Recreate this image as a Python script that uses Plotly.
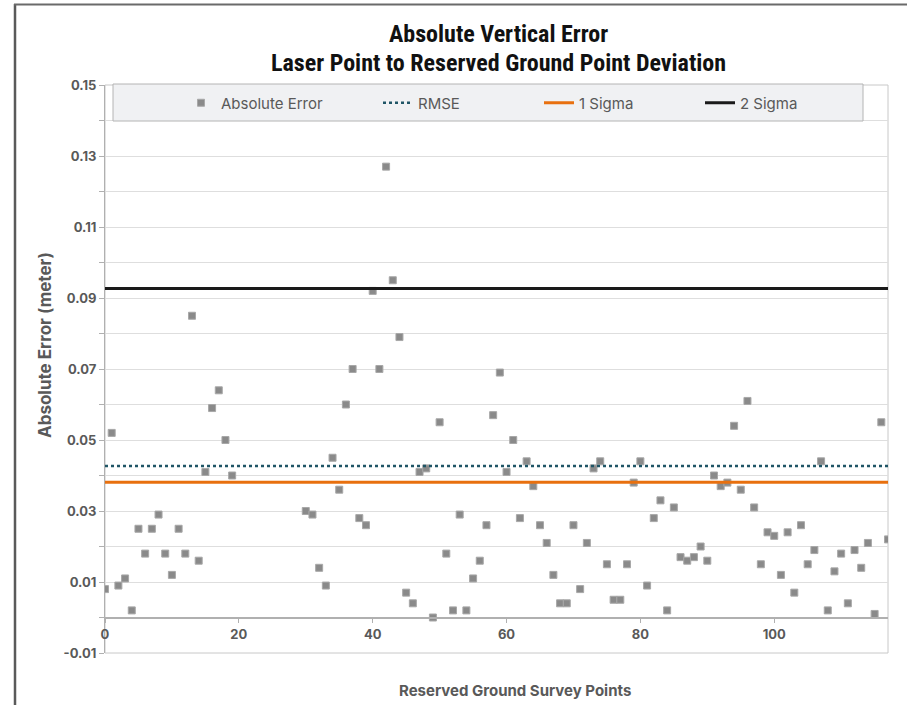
import plotly.graph_objects as go

# Survey point indices and absolute vertical error (m)
point_ids = list(range(0, 20)) + list(range(30, 118))
abs_error = [
    0.008, 0.052, 0.009, 0.011, 0.002, 0.025, 0.018, 0.025, 0.029, 0.018,
    0.012, 0.025, 0.018, 0.085, 0.016, 0.041, 0.059, 0.064, 0.050, 0.040,
    0.030, 0.029, 0.014, 0.009, 0.045, 0.036, 0.060, 0.070, 0.028, 0.026,
    0.092, 0.070, 0.127, 0.095, 0.079, 0.007, 0.004, 0.041, 0.042, 0.000,
    0.055, 0.018, 0.002, 0.029, 0.002, 0.011, 0.016, 0.026, 0.057, 0.069,
    0.041, 0.050, 0.028, 0.044, 0.037, 0.026, 0.021, 0.012, 0.004, 0.004,
    0.026, 0.008, 0.021, 0.042, 0.044, 0.015, 0.005, 0.005, 0.015, 0.038,
    0.044, 0.009, 0.028, 0.033, 0.002, 0.031, 0.017, 0.016, 0.017, 0.020,
    0.016, 0.040, 0.037, 0.038, 0.054, 0.036, 0.061, 0.031, 0.015, 0.024,
    0.023, 0.012, 0.024, 0.007, 0.026, 0.015, 0.019, 0.044, 0.002, 0.013,
    0.018, 0.004, 0.019, 0.014, 0.021, 0.001, 0.055, 0.022,
]

# Summary statistics (m)
rmse = 0.0427
sigma1 = 0.0381
sigma2 = 0.0927

# Y ticks every 0.01, labelled every other one (odd hundredths)
y_ticks = [round(-0.01 + 0.01 * k, 2) for k in range(17)]
y_labels = [f"{v:.2f}" if round(v * 100) % 2 else "" for v in y_ticks]
x_ticks = [0, 20, 40, 60, 80, 100]

W, H = 907, 705
ML, MR, MT, MB = 105, 19, 85, 52
PW, PH = W - ML - MR, H - MT - MB


def px_x(p):
    return (p - ML) / PW


def px_y(p):
    return (H - MB - p) / PH


GRAY_TXT = "#595959"
BODY_FONT = "Inter, Lato, DejaVu Sans, sans-serif"
TITLE_FONT = "Liberation Sans Narrow, Roboto Condensed, Roboto, sans-serif"

x_span = [point_ids[0], point_ids[-1]]

fig = go.Figure()
fig.add_trace(go.Scatter(
    x=point_ids, y=abs_error, mode="markers", name="Absolute Error",
    marker=dict(symbol="square", size=7, color="#8a8a8a",
                line=dict(color="#a8a8a8", width=1)),
    legend="legend2",
))
fig.add_trace(go.Scatter(
    x=x_span, y=[rmse, rmse], mode="lines", name="RMSE",
    line=dict(color="#1f5566", width=2.5, dash="dot"),
))
fig.add_trace(go.Scatter(
    x=x_span, y=[sigma1, sigma1], mode="lines", name="1 Sigma",
    line=dict(color="#e8700f", width=3),
))
fig.add_trace(go.Scatter(
    x=x_span, y=[sigma2, sigma2], mode="lines", name="2 Sigma",
    line=dict(color="#1a1a1a", width=3),
))

shapes = [
    # legend panel
    dict(type="rect", xref="paper", yref="paper",
         x0=px_x(113), x1=px_x(863), y0=px_y(121), y1=px_y(84),
         fillcolor="#f0f1f3", line=dict(color="#b4b4b4", width=1),
         layer="above"),
    # plot-area frame
    dict(type="rect", xref="x domain", yref="y domain", x0=0, x1=1, y0=0, y1=1,
         line=dict(color="#c8c8c8", width=1), layer="below"),
    # outer chart border (left and top edges)
    dict(type="line", xref="paper", yref="paper",
         x0=px_x(15), x1=px_x(15), y0=px_y(4), y1=px_y(H + 5),
         line=dict(color="#5a5a5a", width=2.5)),
    dict(type="line", xref="paper", yref="paper",
         x0=px_x(14), x1=px_x(W + 5), y0=px_y(4.5), y1=px_y(4.5),
         line=dict(color="#6a6a6a", width=2)),
]


def label(text, x, y, size, family, color, angle=0):
    return dict(text=text, xref="paper", yref="paper", x=px_x(x), y=px_y(y),
                xanchor="center", yanchor="middle", showarrow=False,
                textangle=angle, font=dict(family=family, size=size,
                                           color=color))


annotations = [
    label("<b>Absolute Vertical Error</b>", 498, 34, 24, TITLE_FONT, "#111111"),
    label("<b>Laser Point to Reserved Ground Point Deviation</b>", 499, 63, 24,
          TITLE_FONT, "#111111"),
    label("<b>Absolute Error (meter)</b>", 45, 345, 17, BODY_FONT, GRAY_TXT,
          angle=-90),
    label("<b>Reserved Ground Survey Points</b>", 515, 690, 15, BODY_FONT,
          GRAY_TXT),
]

fig.update_layout(
    width=W, height=H,
    margin=dict(l=ML, r=MR, t=MT, b=MB),
    paper_bgcolor="white", plot_bgcolor="white",
    showlegend=True,
    legend=dict(orientation="h", x=px_x(378), y=px_y(103), xanchor="left",
                yanchor="middle", bgcolor="rgba(0,0,0,0)", entrywidth=116,
                font=dict(family=BODY_FONT, size=15, color=GRAY_TXT),
                itemclick=False),
    legend2=dict(orientation="h", x=px_x(181), y=px_y(103), xanchor="left",
                 yanchor="middle", bgcolor="rgba(0,0,0,0)",
                 font=dict(family=BODY_FONT, size=15, color=GRAY_TXT)),
    xaxis=dict(range=[0, 117], anchor="free",
               position=(0 - y_ticks[0]) / (y_ticks[-1] - y_ticks[0]),
               showgrid=False, zeroline=False, showline=True,
               linecolor="#b0b0b0", linewidth=1.5, ticks="outside",
               ticklen=5, tickcolor="#b0b0b0",
               tickvals=x_ticks, ticktext=["<b>%d</b>" % v for v in x_ticks],
               tickfont=dict(family=BODY_FONT, size=13, color=GRAY_TXT)),
    yaxis=dict(range=[y_ticks[0], y_ticks[-1]], tickvals=y_ticks,
               ticktext=["<b>%s</b>" % t if t else "" for t in y_labels],
               showgrid=True, gridcolor="#dedede", gridwidth=1,
               zeroline=False, showline=True, linecolor="#b0b0b0",
               linewidth=1, ticks="outside", ticklen=5, tickcolor="#b0b0b0",
               tickfont=dict(family=BODY_FONT, size=13, color=GRAY_TXT)),
    shapes=shapes,
    annotations=annotations,
)

fig.write_html("out.html")
